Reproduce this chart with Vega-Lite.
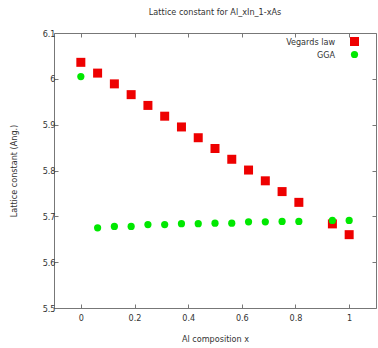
{
  "$schema": "https://vega.github.io/schema/vega-lite/v6.json",
  "width": 322,
  "height": 275,
  "autosize": {"type": "none"},
  "padding": {"left": 54, "top": 33, "right": 2, "bottom": 40},
  "background": "white",
  "title": {"text": "Lattice constant for Al_xIn_1-xAs", "font": "DejaVu Sans Condensed", "fontSize": 9, "fontWeight": "normal", "color": "#333333", "offset": 12, "anchor": "middle"},
  "config": {
    "view": {"stroke": "#777777", "strokeWidth": 1},
    "font": "DejaVu Sans Condensed",
    "axis": {"grid": false, "domain": false, "tickColor": "#777777", "tickSize": -4, "labelFont": "DejaVu Sans Condensed", "labelFontSize": 9, "labelColor": "#333333", "titleFont": "DejaVu Sans Condensed", "titleFontSize": 9, "titleFontWeight": "normal", "titleColor": "#333333"},
    "legend": {"title": null, "orient": "none", "legendX": 226, "legendY": 4, "padding": 0, "labelFont": "DejaVu Sans Condensed", "labelFontSize": 9, "labelColor": "#333333", "rowPadding": 3, "symbolStrokeWidth": 0}
  },
  "data": {"values": [
    {"x": 0, "v": 6.036, "series": "Vegards law"},
    {"x": 0.0625, "v": 6.0125, "series": "Vegards law"},
    {"x": 0.125, "v": 5.989, "series": "Vegards law"},
    {"x": 0.1875, "v": 5.9655, "series": "Vegards law"},
    {"x": 0.25, "v": 5.942, "series": "Vegards law"},
    {"x": 0.3125, "v": 5.9185, "series": "Vegards law"},
    {"x": 0.375, "v": 5.895, "series": "Vegards law"},
    {"x": 0.4375, "v": 5.8715, "series": "Vegards law"},
    {"x": 0.5, "v": 5.848, "series": "Vegards law"},
    {"x": 0.5625, "v": 5.8245, "series": "Vegards law"},
    {"x": 0.625, "v": 5.801, "series": "Vegards law"},
    {"x": 0.6875, "v": 5.7775, "series": "Vegards law"},
    {"x": 0.75, "v": 5.754, "series": "Vegards law"},
    {"x": 0.8125, "v": 5.7305, "series": "Vegards law"},
    {"x": 0.9375, "v": 5.6835, "series": "Vegards law"},
    {"x": 1, "v": 5.66, "series": "Vegards law"},
    {"x": 0, "v": 6.005, "series": "GGA"},
    {"x": 0.0625, "v": 5.675, "series": "GGA"},
    {"x": 0.125, "v": 5.678, "series": "GGA"},
    {"x": 0.1875, "v": 5.678, "series": "GGA"},
    {"x": 0.25, "v": 5.682, "series": "GGA"},
    {"x": 0.3125, "v": 5.682, "series": "GGA"},
    {"x": 0.375, "v": 5.684, "series": "GGA"},
    {"x": 0.4375, "v": 5.684, "series": "GGA"},
    {"x": 0.5, "v": 5.685, "series": "GGA"},
    {"x": 0.5625, "v": 5.685, "series": "GGA"},
    {"x": 0.625, "v": 5.688, "series": "GGA"},
    {"x": 0.6875, "v": 5.688, "series": "GGA"},
    {"x": 0.75, "v": 5.689, "series": "GGA"},
    {"x": 0.8125, "v": 5.689, "series": "GGA"},
    {"x": 0.9375, "v": 5.691, "series": "GGA"},
    {"x": 1, "v": 5.691, "series": "GGA"}
  ]},
  "layer": [
    {
      "mark": {"type": "point", "filled": true, "opacity": 1},
      "encoding": {
        "x": {"field": "x", "type": "quantitative", "scale": {"domain": [-0.1, 1.1], "nice": false, "zero": false}, "axis": {"title": "Al composition x", "format": "~g", "values": [0, 0.2, 0.4, 0.6, 0.8, 1], "labelPadding": 9, "titlePadding": 12, "orient": "bottom"}},
        "y": {"field": "v", "type": "quantitative", "scale": {"domain": [5.5, 6.1], "nice": false, "zero": false}, "axis": {"title": "Lattice constant (Ang.)", "format": "~g", "values": [5.5, 5.6, 5.7, 5.8, 5.9, 6, 6.1], "labelPadding": 3, "titleX": -36, "orient": "left"}},
        "color": {"field": "series", "type": "nominal", "scale": {"domain": ["Vegards law", "GGA"], "range": ["#ee0000", "#00e800"]}, "legend": {"labelAlign": "right", "labelOffset": -24, "symbolOffset": 70}},
        "shape": {"field": "series", "type": "nominal", "scale": {"domain": ["Vegards law", "GGA"], "range": ["square", "circle"]}, "legend": {"labelAlign": "right", "labelOffset": -24, "symbolOffset": 70}},
        "size": {"field": "series", "type": "nominal", "scale": {"domain": ["Vegards law", "GGA"], "range": [81, 52]}, "legend": {"labelAlign": "right", "labelOffset": -24, "symbolOffset": 70}}
      }
    },
    {
      "mark": {"type": "point", "opacity": 0},
      "encoding": {
        "x": {"field": "x", "type": "quantitative", "scale": {"domain": [-0.1, 1.1], "nice": false, "zero": false}, "axis": {"title": null, "labels": false, "values": [0, 0.2, 0.4, 0.6, 0.8, 1], "orient": "top"}},
        "y": {"field": "v", "type": "quantitative", "scale": {"domain": [5.5, 6.1], "nice": false, "zero": false}, "axis": {"title": null, "labels": false, "values": [5.5, 5.6, 5.7, 5.8, 5.9, 6, 6.1], "orient": "right"}}
      }
    }
  ],
  "resolve": {"axis": {"x": "independent", "y": "independent"}}
}
